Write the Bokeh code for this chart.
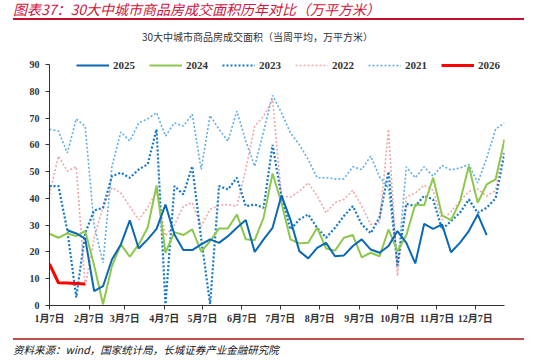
from bokeh.plotting import figure
from bokeh.layouts import column
from bokeh.models import Range1d, FixedTicker, Label, Legend, LegendItem, Div
from bokeh.embed import file_html
from bokeh.resources import INLINE

NaN = float("nan")

# x: days after Jan 7 for each weekly observation
week_days = list(range(0, 358, 7))

tick_days = [0, 31, 59, 90, 120, 151, 181, 212, 243, 273, 304, 334]
tick_labels = ["1月7日", "2月7日", "3月7日", "4月7日", "5月7日", "6月7日",
               "7月7日", "8月7日", "9月7日", "10月7日", "11月7日", "12月7日"]

s2025 = [NaN, NaN, 28.1, 26.9, 25.0, 5.4, 7.2, 17.2, 22.8, 31.8, 21.3, 24.7, 28.6, 37.7,
         26.5, 20.7, 20.7, 22.8, 24.7, 23.4, 25.9, 29.0, 31.9, 20.0, 24.7, 29.0, 41.1,
         32.1, 20.3, 17.6, 21.5, 23.4, 18.4, 18.7, 22.2, 24.7, 20.9, 19.7, 22.2, 27.8,
         23.4, 15.7, 30.5, 28.6, 30.3, 19.9, 23.4, 27.8, 34.0, 26.3, NaN, NaN]
s2024 = [26.8, 25.3, 26.9, 25.9, 27.8, 15.0, 0.5, 14.7, 22.8, 18.2, 22.8, 29.0, 44.8, 19.7,
         27.4, 26.3, 28.4, 20.1, 24.0, 28.8, 28.8, 34.0, 24.7, 24.4, 32.8, 49.3, 38.4,
         24.7, 23.2, 23.4, 29.0, 21.3, 20.5, 25.3, 26.3, 18.0, 19.7, 18.4, 28.4, 20.3,
         26.3, 37.7, 37.4, 47.7, 33.7, 31.9, 38.7, 52.1, 38.4, 45.2, 47.1, 62.0]
s2023 = [44.6, 44.6, 28.0, 3.0, 27.0, 35.5, 36.5, 48.3, 49.6, 47.7, 50.8, 52.7, 65.8, 0.5,
         44.6, 41.5, 52.0, 25.0, 0.5, 44.6, 43.3, 47.7, 37.1, 37.7, 36.5, 60.0, 40.8,
         28.4, 32.1, 34.0, 29.0, 25.3, 29.0, 33.4, 37.1, 30.3, 27.0, 33.0, 50.0, 15.0,
         38.0, 37.1, 41.0, 39.6, 28.4, 31.5, 34.6, 39.6, 34.6, 36.5, 40.0, 57.0]
s2022 = [41.5, 55.8, 50.2, 51.8, 7.0, 25.0, 37.0, 44.0, 42.0, 37.0, 32.0, 36.5, 42.5, 26.0,
         30.0, 37.1, 38.4, 29.6, 35.9, 37.4, 37.7, 37.1, 50.8, 67.0, 70.7, 77.0, 40.8,
         40.5, 42.7, 45.8, 41.0, 34.6, 38.4, 39.6, 43.0, 37.1, 30.3, 31.0, 65.8, 11.0,
         40.5, 42.0, 45.0, 43.0, 32.0, 35.0, 39.0, 42.5, 43.5, 40.8, 43.0, 62.5]
s2021 = [65.8, 65.1, 57.0, 69.7, 67.0, 30.0, 16.0, 52.0, 64.8, 61.4, 68.2, 69.7, 72.0, 63.3,
         68.2, 67.0, 71.4, 50.8, 71.0, 65.8, 61.4, 72.6, 61.4, 52.0, 65.0, 78.5, 72.0,
         64.5, 60.1, 54.5, 47.7, 47.7, 47.3, 47.3, 51.8, 50.8, 55.8, 48.0, 44.0, 14.0,
         51.8, 47.7, 51.8, 48.3, 52.3, 50.6, 51.4, 52.7, 45.8, 55.0, 65.8, 68.2]
s2026 = [15.5, 8.5, 8.4, 8.2, 8.0]

y_ticks = [0, 10, 20, 30, 40, 50, 60, 70, 80, 90]

TITLE = "图表37：30大中城市商品房成交面积历年对比（万平方米）"
SUBTITLE = "30大中城市商品房成交面积（当周平均，万平方米）"
SOURCE = "资料来源：wind，国家统计局，长城证券产业金融研究院"

CJK = "Noto Sans CJK SC"
SERIF = "Liberation Serif"

# frame: 274 px tall, value 90 sits 241 px above the x axis
y_top = 90 * 274 / 241

p = figure(width=534, height=298, output_backend="svg", toolbar_location=None,
           x_range=Range1d(0, 357), y_range=Range1d(0, y_top),
           min_border_left=49, min_border_right=30, min_border_top=2, min_border_bottom=22)
p.outline_line_color = None
p.xgrid.grid_line_color = None
p.ygrid.grid_line_color = None
p.background_fill_color = "white"
p.border_fill_color = "white"

r21 = p.line(week_days, s2021, line_color="#5FAEE6", line_width=1.6, line_dash="2 2")
r22 = p.line(week_days, s2022, line_color="#F2A7A7", line_width=1.6, line_dash="2 2")
r23 = p.line(week_days, s2023, line_color="#1577C8", line_width=2.2, line_dash="2 2")
r24 = p.line(week_days, s2024, line_color="#8CC84B", line_width=2)
r25 = p.line(week_days, s2025, line_color="#0B68B5", line_width=2)
r26 = p.line(week_days[:len(s2026)], s2026, line_color="#FF0000", line_width=3)

# axes
p.xaxis.ticker = FixedTicker(ticks=tick_days)
p.xaxis.major_label_overrides = {d: l for d, l in zip(tick_days, tick_labels)}
p.yaxis.ticker = FixedTicker(ticks=y_ticks)
p.yaxis.bounds = (0, 90)
for ax in (p.xaxis, p.yaxis):
    ax.axis_line_color = "#333333"
    ax.major_tick_line_color = "#333333"
    ax.minor_tick_line_color = None
    ax.major_tick_in = 0
    ax.major_tick_out = 4
    ax.major_label_text_color = "#333333"
    ax.major_label_text_font_style = "bold"
p.xaxis.major_label_text_font = f"{SERIF}, {CJK}"
p.xaxis.major_label_text_font_size = "10px"
p.xaxis.major_label_standoff = 3
p.yaxis.major_label_text_font = SERIF
p.yaxis.major_label_text_font_size = "10px"
p.yaxis.major_label_standoff = 6

legend = Legend(items=[
    LegendItem(label="2025", renderers=[r25]),
    LegendItem(label="2024", renderers=[r24]),
    LegendItem(label="2023", renderers=[r23]),
    LegendItem(label="2022", renderers=[r22]),
    LegendItem(label="2021", renderers=[r21]),
    LegendItem(label="2026", renderers=[r26]),
], orientation="horizontal", location=(27, 234), padding=0, margin=0, spacing=14,
    glyph_width=33, glyph_height=12, label_height=12, label_standoff=4,
    label_text_font=SERIF, label_text_font_size="11px", label_text_font_style="bold",
    label_text_color="#333333", border_line_alpha=0, background_fill_alpha=0)
p.add_layout(legend, "center")

p.add_layout(Label(x=208, y=269, x_units="screen", y_units="screen", text=SUBTITLE,
                   text_font=CJK, text_font_size="10px", text_color="#333333",
                   text_baseline="middle", text_align="center"))

title_div = Div(width=534, height=19, styles={"overflow": "visible"}, text=(
    '<div style="position:relative;width:534px;height:19px;">'
    f'<div style="position:absolute;left:8px;top:-4px;white-space:nowrap;'
    f'font-family:\'{CJK}\';font-style:italic;font-size:14px;line-height:16px;'
    f'color:#D0143C;">{TITLE}</div>'
    '<div style="position:absolute;left:8px;top:13px;width:511px;height:0;'
    'border-top:2px solid #C8102E;"></div></div>'))

source_div = Div(width=534, height=22, styles={"overflow": "visible"}, text=(
    '<div style="position:relative;width:534px;height:22px;">'
    '<div style="position:absolute;left:8px;top:6px;width:511px;height:0;'
    'border-top:2px solid #C0504D;"></div>'
    f'<div style="position:absolute;left:8px;top:12px;white-space:nowrap;'
    f'font-family:\'{CJK}\';font-style:italic;font-size:10.5px;line-height:12px;'
    f'color:#111111;">{SOURCE}</div></div>'))

layout = column(title_div, p, source_div, spacing=0)
open("out.html", "w").write(file_html(layout, INLINE))
